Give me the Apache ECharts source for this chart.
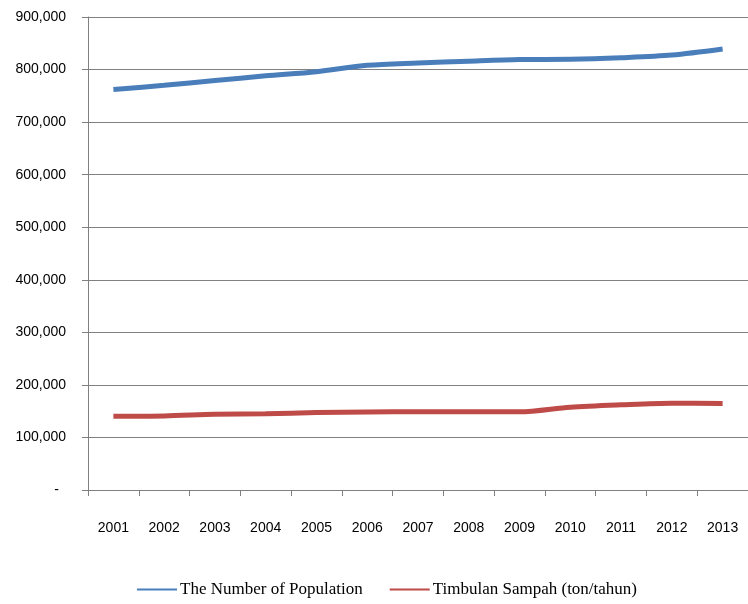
<!DOCTYPE html>
<html><head><meta charset="utf-8">
<script src="https://cdn.jsdelivr.net/npm/echarts@6/dist/echarts.min.js"></script>
<style>html,body{margin:0;padding:0;background:#fff}#c{width:748px;height:604px}</style>
</head><body><div id="c"></div>
<script>
const years = ['2001','2002','2003','2004','2005','2006','2007','2008','2009','2010','2011','2012','2013'];
const population = [762000, 770000, 779000, 788000, 796000, 808000, 812500, 816000, 819000, 819500, 822500, 827500, 839000];
const sampah = [140500, 141000, 144000, 145000, 147500, 148500, 148800, 148800, 148800, 157500, 162000, 165000, 164500];
const seriesNames = ['The Number of Population', 'Timbulan Sampah (ton/tahun)'];
const yTicks = {min: 0, max: 900000, interval: 100000};

const chart = echarts.init(document.getElementById('c'));
const axisFont = '"Liberation Sans Narrow", "Liberation Sans", sans-serif';
chart.setOption({
  animation: false,
  backgroundColor: '#fff',
  grid: {left: 88, top: 17, right: -6, bottom: 114, containLabel: false},
  xAxis: {
    type: 'category', data: years, boundaryGap: true,
    axisLine: {lineStyle: {color: '#808080', width: 1}},
    axisTick: {show: true, length: 6, alignWithLabel: false, lineStyle: {color: '#808080'}},
    axisLabel: {color: '#000', fontFamily: axisFont, fontSize: 14, margin: 31, interval: 0},
    splitLine: {show: false}
  },
  yAxis: {
    type: 'value', min: yTicks.min, max: yTicks.max, interval: yTicks.interval,
    axisLine: {show: true, lineStyle: {color: '#808080', width: 1}},
    axisTick: {show: true, length: 6, lineStyle: {color: '#808080'}},
    axisLabel: {
      color: '#000', fontFamily: axisFont, fontSize: 14, margin: 22,
      formatter: v => v === 0 ? '{d|-}' : v.toLocaleString('en-US'),
      rich: {d: {padding: [0, 7, 0, 0], fontFamily: axisFont, fontSize: 14, color: '#000'}}
    },
    splitLine: {show: true, lineStyle: {color: '#808080', width: 1}}
  },
  legend: {
    bottom: 1, left: 132, itemWidth: 40, itemHeight: 10, itemGap: 27,
    icon: 'path://M0,0 L40,0 L40,2 L0,2 Z',
    textStyle: {fontFamily: '"Liberation Serif", serif', fontSize: 17, color: '#000', padding: [0,0,0,-2]},
    data: seriesNames
  },
  series: [
    {name: seriesNames[0], type: 'line', data: population, smooth: 0.3, symbol: 'none',
     lineStyle: {color: '#4a7ebb', width: 5}, itemStyle: {color: '#4a7ebb'}},
    {name: seriesNames[1], type: 'line', data: sampah, smooth: 0.3, symbol: 'none',
     lineStyle: {color: '#be4b48', width: 5}, itemStyle: {color: '#be4b48'}}
  ]
});
</script></body></html>
